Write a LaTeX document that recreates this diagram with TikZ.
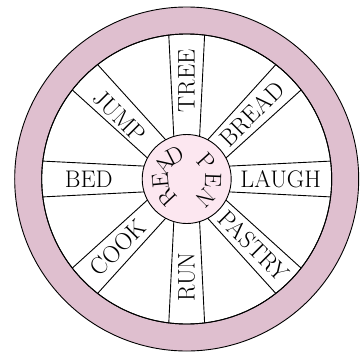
\documentclass[tikz,border=0pt]{standalone}
\usetikzlibrary{calc}
\definecolor{rimpink}{RGB}{223,191,207}
\definecolor{hubpink}{RGB}{252,231,240}
\begin{document}
\begin{tikzpicture}[x=1pt,y=1pt, line width=0.9pt,
  word/.style={font=\fontsize{24}{28}\selectfont, inner sep=0pt},
  hubletter/.style={font=\fontsize{23.5}{28}\selectfont, inner sep=0pt}]
\useasboundingbox (-186.7,-175) rectangle (174.3,179);
\coordinate (c) at (0,0);
\draw[fill=rimpink] (c) circle (172);
\draw[fill=white] (c) circle (145);
\begin{scope}
\clip (c) circle (145);
\foreach \a in {0,45,...,315}{
  \draw ($(\a:0)+(\a+90:10.8)$) -- ($(\a:160)+(\a+90:18.7)$);
  \draw ($(\a:0)+(\a-90:10.8)$) -- ($(\a:160)+(\a-90:18.7)$);
}
\end{scope}
\draw (c) circle (145);
\node[draw, circle, fill=hubpink, minimum size=89pt, inner sep=0pt] (hub) at (c) {};
\node[word, rotate=90] (tree) at (90:98) {TREE};
\node[word, rotate=45] (bread) at (45:92) {BREAD};
\node[word] (laugh) at (0:94) {LAUGH};
\node[word, rotate=-45] (pastry) at (-45:95) {PASTRY};
\node[word, rotate=90] (run) at (-90:98) {RUN};
\node[word, rotate=45] (cook) at (-135:97) {COOK};
\node[word] (bed) at (180:98) {BED};
\node[word, rotate=-45] (jump) at (137:92) {JUMP};
\foreach \l/\a [count=\i] in {R/223,E/185,A/148,D/117,P/42,E/-2,N/-45}
  \node[hubletter, rotate=\a-90] (h\i) at (\a:26.5) {\l};
\end{tikzpicture}
\end{document}
